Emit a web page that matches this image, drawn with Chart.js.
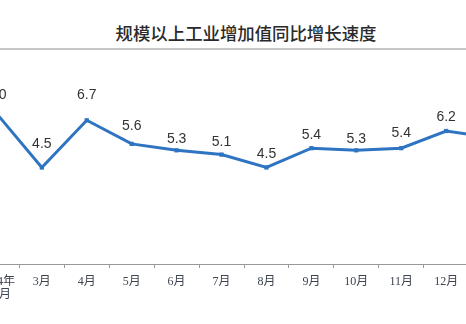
<!DOCTYPE html>
<html>
<head>
<meta charset="utf-8">
<script src="https://cdn.jsdelivr.net/npm/chart.js@4/dist/chart.umd.min.js"></script>
<style>
html,body{margin:0;padding:0;width:466px;height:324px;overflow:hidden;background:#fff;}
#title{position:absolute;left:0;top:20px;width:466px;box-sizing:border-box;padding-left:26px;text-align:center;
  font-family:"Noto Sans CJK SC","Noto Sans",sans-serif;font-size:17.4px;line-height:26px;color:#2a2a2a;font-weight:500;}
#rule{position:absolute;left:0;top:48px;width:466px;height:0;border-top:2px solid #c6c6c6;}
#wrap{position:absolute;left:-28px;top:60px;width:544px;height:254px;}
</style>
</head>
<body>
<div id="title">规模以上工业增加值同比增长速度</div>
<div id="rule"></div>
<div id="wrap"><canvas id="c"></canvas></div>
<script>
const categories = [["2024年","1-2月"],"3月","4月","5月","6月","7月","8月","9月","10月","11月","12月",["2025年","1-2月"]];
const growth = [7.0,4.5,6.7,5.6,5.3,5.1,4.5,5.4,5.3,5.4,6.2,5.9];
const labelGaps = [19,23,25,18,11,12,13,13,11,15,14,14];

const valueLabels = {
  id:'valueLabels',
  afterDatasetsDraw(chart){
    const ctx = chart.ctx;
    const meta = chart.getDatasetMeta(0);
    ctx.save();
    ctx.font = '14px "Liberation Sans", Arial, sans-serif';
    ctx.fillStyle = '#333';
    ctx.textAlign = 'center';
    ctx.textBaseline = 'middle';
    meta.data.forEach((pt,i)=>{
      ctx.fillText(growth[i].toFixed(1), pt.x, pt.y - labelGaps[i]);
    });
    ctx.restore();
  }
};

new Chart(document.getElementById('c'), {
  type:'line',
  data:{
    labels:categories,
    datasets:[{
      data:growth,
      borderColor:'#2f74c2',
      backgroundColor:'#2f74c2',
      borderWidth:3,
      pointStyle:'rect',
      pointRadius:3,
      pointBorderWidth:0,
      tension:0,
      clip:false
    }]
  },
  options:{
    responsive:true,
    maintainAspectRatio:false,
    animation:false,
    layout:{autoPadding:false,padding:{top:32.4,left:0,right:0,bottom:0}},
    plugins:{legend:{display:false},tooltip:{enabled:false},title:{display:false}},
    scales:{
      x:{
        offset:true,
        grid:{offset:true,drawOnChartArea:false,drawTicks:true,tickLength:4,color:'#999'},
        border:{display:true,color:'#999',width:1},
        ticks:{
          autoSkip:false,maxRotation:0,padding:7,color:'#3d4450',
          font:{family:'"Liberation Serif","Noto Sans CJK SC",serif',size:12,lineHeight:1.1}
        },
        afterFit(scale){scale.height=50;}
      },
      y:{display:false,min:0,max:8}
    }
  },
  plugins:[valueLabels]
});
</script>
</body>
</html>
